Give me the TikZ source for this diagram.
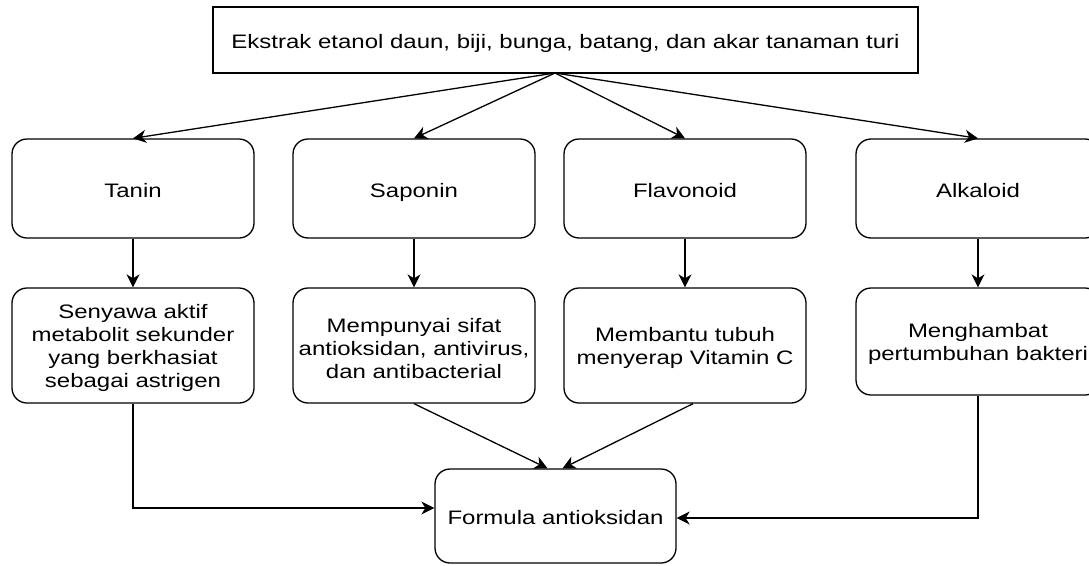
\documentclass[tikz,border=0pt]{standalone}
\usepackage{fontspec}
\setmainfont[FakeStretch=1.23]{Liberation Sans}
\usetikzlibrary{arrows.meta,calc}
\newcommand{\firstup}{\rule{0pt}{20pt}}
\begin{document}
\begin{tikzpicture}[x=1pt,y=-1pt,
  every node/.style={font=\fontsize{19.5pt}{23pt}\selectfont, align=center, inner sep=0pt},
  oneline/.style={text height=17pt, text depth=0pt},
  plainbox/.style={draw, line width=1.3pt, rectangle},
  rbox/.style={draw, line width=1.3pt, rectangle, rounded corners=15pt},
  arr/.style={draw, line width=1.3pt, -{Stealth[length=13pt,width=13pt,inset=4pt]}}]
\useasboundingbox (0,0) rectangle (1089,565);
\fill[white] (0,0) rectangle (1089,565);
% top box
\node[plainbox, oneline, minimum width=705pt, minimum height=66pt] (top) at (565.5,40) {Ekstrak etanol daun, biji, bunga, batang, dan akar tanaman turi};
\coordinate (src) at (555,73);
% row 1
\node[rbox, oneline, minimum width=242pt, minimum height=99pt] (tanin) at (133,188.5) {Tanin};
\node[rbox, oneline, minimum width=242pt, minimum height=99pt] (sap) at (414,188.5) {Saponin};
\node[rbox, oneline, minimum width=242pt, minimum height=99pt] (flav) at (685,188.5) {Flavonoid};
\node[rbox, oneline, minimum width=244pt, minimum height=99pt] (alk) at (978,188.5) {Alkaloid};
% row 2
\node[rbox, minimum width=242pt, minimum height=115pt] (tanind) at (133,345.5) {\firstup Senyawa aktif\\metabolit sekunder\\yang berkhasiat\\sebagai astrigen};
\node[rbox, minimum width=242pt, minimum height=115pt] (sapd) at (414,345.5) {\firstup Mempunyai sifat\\antioksidan, antivirus,\\dan antibacterial};
\node[rbox, minimum width=242pt, minimum height=115pt] (flavd) at (685,345.5) {\firstup Membantu tubuh\\menyerap Vitamin C};
\node[rbox, minimum width=244pt, minimum height=107pt] (alkd) at (978,341.5) {\firstup Menghambat\\pertumbuhan bakteri};
% bottom
\node[rbox, oneline, minimum width=241pt, minimum height=94pt] (form) at (555.5,516) {Formula antioksidan};
% connectors
\draw[arr] (src) -- (tanin.north);
\draw[arr] (src) -- (sap.north);
\draw[arr] (src) -- (flav.north);
\draw[arr] (src) -- (alk.north);
\draw[arr] (tanin) -- (tanind);
\draw[arr] (sap) -- (sapd);
\draw[arr] (flav) -- (flavd);
\draw[arr] (alk) -- (alkd);
\draw[arr] (tanind.south) |- ([yshift=8pt]form.west);
\draw[arr] (alkd.south) |- ([yshift=-2pt]form.east);
\draw[arr] (sapd.south) -- ([xshift=-8pt]form.north);
\draw[arr] ([xshift=8pt]flavd.south) -- ([xshift=7pt]form.north);
\end{tikzpicture}
\end{document}
